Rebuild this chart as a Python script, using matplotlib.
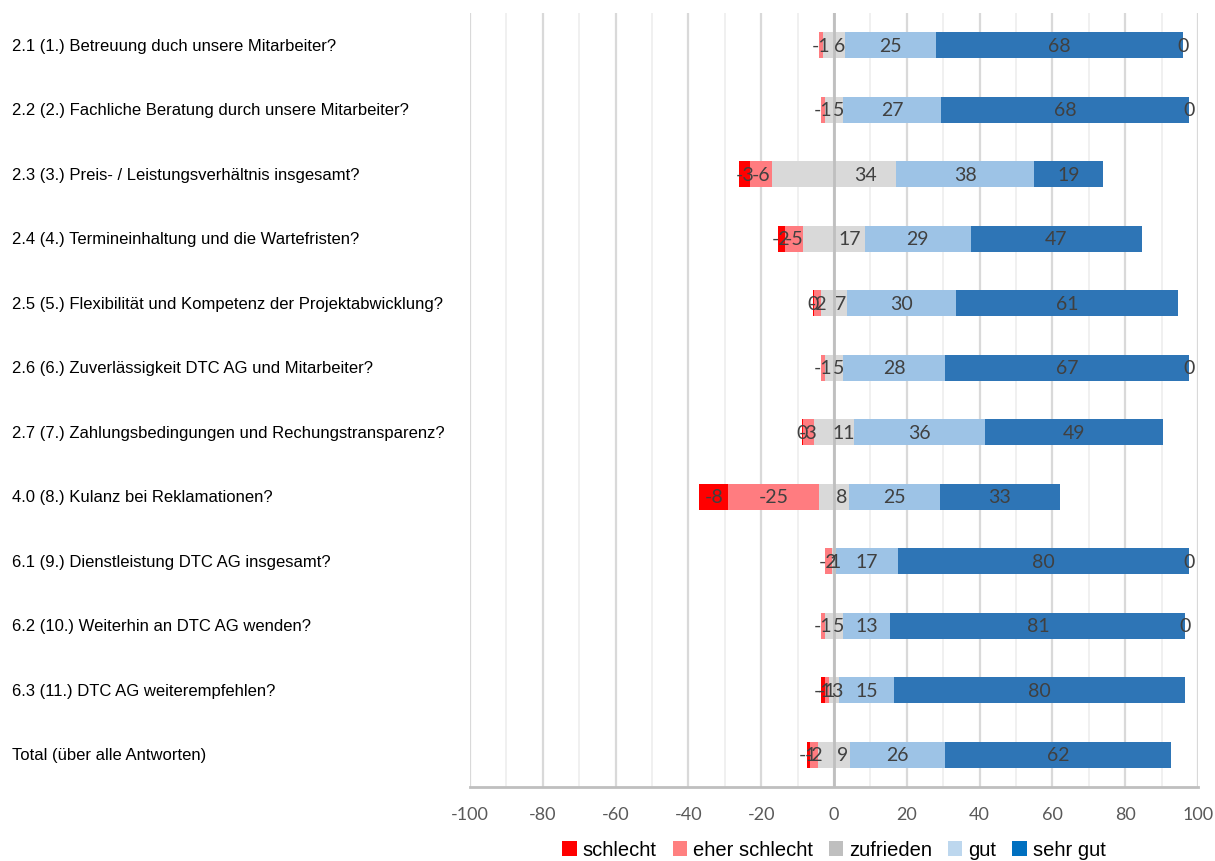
import matplotlib
matplotlib.use("Agg")
import matplotlib.pyplot as plt
import matplotlib.transforms as mtransforms
from matplotlib.patches import Patch
import numpy as np

categories = [
    "2.1 (1.) Betreuung duch unsere Mitarbeiter?",
    "2.2 (2.) Fachliche Beratung durch unsere Mitarbeiter?",
    "2.3 (3.) Preis- / Leistungsverhältnis insgesamt?",
    "2.4 (4.) Termineinhaltung und die Wartefristen?",
    "2.5 (5.) Flexibilität und Kompetenz der Projektabwicklung?",
    "2.6 (6.) Zuverlässigkeit DTC AG und Mitarbeiter?",
    "2.7 (7.) Zahlungsbedingungen und Rechungstransparenz?",
    "4.0 (8.) Kulanz bei Reklamationen?",
    "6.1 (9.) Dienstleistung DTC AG insgesamt?",
    "6.2 (10.) Weiterhin an DTC AG wenden?",
    "6.3 (11.) DTC AG weiterempfehlen?",
    "Total (über alle Antworten)",
]
schlecht = [0, 0, -3, -2, -0.4, 0, -0.4, -8, 0, 0, -1, -1]
eher_schlecht = [-1, -1, -6, -5, -2, -1, -3, -25, -2, -1, -1, -2]
zufrieden = [6, 5, 34, 17, 7, 5, 11, 8, 1, 5, 3, 9]
gut = [25, 27, 38, 29, 30, 28, 36, 25, 17, 13, 15, 26]
sehr_gut = [68, 68, 19, 47, 61, 67, 49, 33, 80, 81, 80, 62]
series_names = ["schlecht", "eher schlecht", "zufrieden", "gut", "sehr gut"]
x_ticks = [-100, -80, -60, -40, -20, 0, 20, 40, 60, 80, 100]

bar_colors = ["#FF0000", "#FF7C80", "#D9D9D9", "#9DC3E6", "#2E75B6"]
legend_colors = ["#FF0000", "#FF8080", "#BFBFBF", "#BDD7EE", "#0070C0"]
label_color = "#404040"

fig = plt.figure(figsize=(12.15, 8.62), dpi=100)
ax = fig.add_axes([470/1215, 1-788/862, 728/1215, 774/862])

y = np.arange(len(categories))
s = np.array(schlecht, float)
e = np.array(eher_schlecht, float)
z = np.array(zufrieden, float)
g = np.array(gut, float)
sg = np.array(sehr_gut, float)
h = 0.4

left_z = -z / 2
ax.barh(y, z, left=left_z, height=h, color=bar_colors[2], zorder=3)
ax.barh(y, e, left=left_z, height=h, color=bar_colors[1], zorder=3)
ax.barh(y, s, left=left_z + e, height=h, color=bar_colors[0], zorder=3)
ax.barh(y, g, left=z / 2, height=h, color=bar_colors[3], zorder=3)
ax.barh(y, sg, left=z / 2 + g, height=h, color=bar_colors[4], zorder=3)

def lab(v):
    return str(int(round(v))) if round(v) != 0 else "0"

tk = dict(ha="center", va="center", color=label_color, fontsize=14,
          family="Lato", zorder=5)
for i in range(len(categories)):
    ax.text(z[i] / 4, y[i], lab(z[i]), **tk)
    ax.text(left_z[i] + e[i] / 2, y[i], lab(e[i]), **tk)
    if s[i] == 0:
        ax.text(z[i] / 2 + g[i] + sg[i], y[i], "0", **tk)
    else:
        ax.text(left_z[i] + e[i] + s[i] / 2, y[i], lab(s[i]), **tk)
    ax.text(z[i] / 2 + g[i] / 2, y[i], lab(g[i]), **tk)
    ax.text(z[i] / 2 + g[i] + sg[i] / 2, y[i], lab(sg[i]), **tk)

ax.set_xlim(-100, 100)
ax.set_ylim(len(categories) - 0.5, -0.5)
ax.set_xticks(x_ticks)
ax.set_xticklabels([str(t) for t in x_ticks])
ax.set_xticks(np.arange(-90, 100, 20), minor=True)
ax.set_yticks([])
ax.tick_params(axis="x", which="both", length=0, pad=14, labelsize=13,
               labelcolor="#595959")
for lbl in ax.get_xticklabels():
    lbl.set_family("Lato")
ax.grid(axis="x", which="major", color="#D9D9D9", lw=1.6, zorder=0)
ax.grid(axis="x", which="minor", color="#EEEEEE", lw=1.2, zorder=0)
ax.axvline(0, color="#BFBFBF", lw=2, zorder=4)
for side in ["top", "right", "left"]:
    ax.spines[side].set_visible(False)
ax.spines["bottom"].set_color("#BFBFBF")
ax.spines["bottom"].set_linewidth(2)

trans = mtransforms.blended_transform_factory(fig.transFigure, ax.transData)
for i, c in enumerate(categories):
    ax.text(12/1215, y[i], c, transform=trans, ha="left", va="center",
            fontsize=12, family="Liberation Sans", color="black", clip_on=False)

handles = [Patch(facecolor=c, edgecolor="none") for c in legend_colors]
fig.legend(handles, series_names, loc="center", bbox_to_anchor=(834/1215, 1-851/862),
           ncol=5, frameon=False, handlelength=0.7, handleheight=0.7,
           handletextpad=0.3, columnspacing=0.8,
           prop={"family": "Liberation Sans", "size": 14.5})

fig.savefig("out.png", dpi=100)
